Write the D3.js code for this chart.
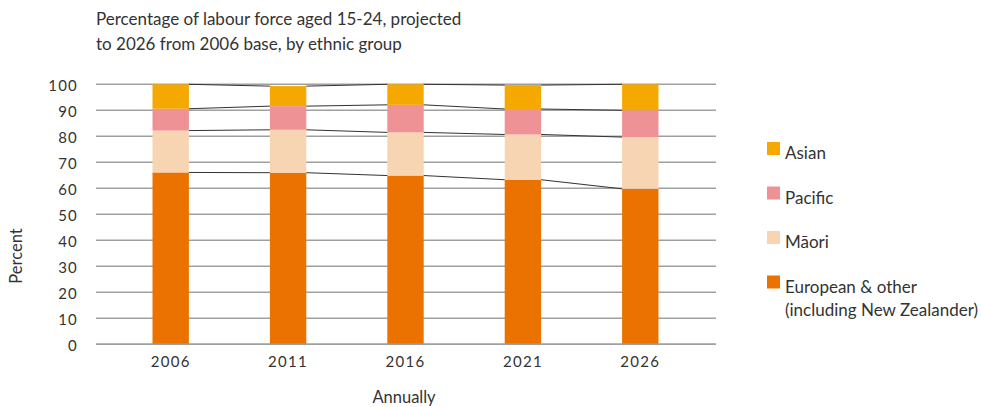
<!DOCTYPE html>
<html>
<head>
<meta charset="utf-8">
<script src="https://cdn.jsdelivr.net/npm/d3@7"></script>
<style>
  body { margin: 0; background: #fff; }
  svg text { font-family: Lato, "Open Sans", sans-serif; fill: #333; }
</style>
</head>
<body>
<svg id="chart" width="981" height="407"></svg>
<script>
const years = ["2006", "2011", "2016", "2021", "2026"];
const seriesNames = ["European & other", "Māori", "Pacific", "Asian"];
const european = [66.1, 66.0, 64.9, 63.3, 59.8];
const maori = [16.1, 16.5, 16.6, 17.4, 19.9];
const pacific = [8.4, 9.1, 10.6, 9.8, 10.3];
const asian = [9.4, 7.7, 7.9, 9.2, 10.0];
const yTicks = [0, 10, 20, 30, 40, 50, 60, 70, 80, 90, 100];
const colors = ["#EC7200", "#F8D5B2", "#EE9296", "#F5A800"];
const legendItems = [
  { name: "Asian", color: colors[3], lines: ["Asian"] },
  { name: "Pacific", color: colors[2], lines: ["Pacific"] },
  { name: "Māori", color: colors[1], lines: ["Māori"] },
  { name: "European & other", color: colors[0], lines: ["European & other", "(including New Zealander)"] }
];

const svg = d3.select("#chart");
const rows = years.map((y, i) => ({ year: y, "European & other": european[i], "Māori": maori[i], "Pacific": pacific[i], "Asian": asian[i] }));
const stack = d3.stack().keys(seriesNames)(rows);

const x = d3.scaleBand().domain(years).range([112, 699]).paddingInner(0.69).paddingOuter(0.345);
const y = d3.scaleLinear().domain([0, 100]).range([344.3, 84.3]);

// gridlines
svg.append("g").selectAll("line").data(yTicks).join("line")
  .attr("x1", 96).attr("x2", 716)
  .attr("y1", d => y(d)).attr("y2", d => y(d))
  .attr("stroke", "#a0a0a0").attr("stroke-width", 1.5);

// y axis labels
const yAxis = d3.axisLeft(y).tickValues(yTicks).tickSize(0).tickPadding(0);
const yg = svg.append("g").attr("transform", "translate(78,0)").call(yAxis);
yg.select(".domain").remove();
yg.selectAll("text").attr("font-size", 15).attr("dy", "0.4em").attr("letter-spacing", 1.2).style("fill", "#333").style("font-family", "Lato, sans-serif");

// x axis labels
const xAxis = d3.axisBottom(x).tickSize(0).tickPadding(0);
const xg = svg.append("g").attr("transform", "translate(0,356)").call(xAxis);
xg.select(".domain").remove();
xg.selectAll("text").attr("font-size", 15).attr("dy", "0.71em").attr("letter-spacing", 1.3).style("fill", "#333").style("font-family", "Lato, sans-serif");

// bars
svg.append("g").selectAll("g").data(stack).join("g")
  .attr("fill", (d, i) => colors[i])
  .selectAll("rect").data(d => d).join("rect")
  .attr("x", d => x(d.data.year))
  .attr("width", x.bandwidth())
  .attr("y", d => y(d[1]))
  .attr("height", d => y(d[0]) - y(d[1]));

// series lines
const sl = svg.append("g").attr("stroke", "#333").attr("stroke-width", 1).attr("fill", "none");
stack.forEach(s => {
  for (let i = 0; i < s.length - 1; i++) {
    sl.append("line")
      .attr("x1", x(years[i]) + x.bandwidth()).attr("y1", y(s[i][1]))
      .attr("x2", x(years[i + 1])).attr("y2", y(s[i + 1][1]));
  }
});

// axis line at bottom
svg.append("line").attr("x1", 96).attr("x2", 716).attr("y1", y(0)).attr("y2", y(0))
  .attr("stroke", "#a0a0a0").attr("stroke-width", 1.5);

// title
svg.append("text").attr("x", 96).attr("y", 25).attr("font-size", 17).text("Percentage of labour force aged 15-24, projected");
svg.append("text").attr("x", 96).attr("y", 50).attr("font-size", 17).text("to 2026 from 2006 base, by ethnic group");

// axis titles
svg.append("text").attr("transform", "translate(22,256) rotate(-90)").attr("text-anchor", "middle").attr("font-size", 16.5).text("Percent");
svg.append("text").attr("x", 404).attr("y", 403).attr("text-anchor", "middle").attr("font-size", 16.5).text("Annually");

// legend
const lg = svg.append("g");
legendItems.forEach((it, i) => {
  const top = 142 + i * 44.5;
  lg.append("rect").attr("x", 767).attr("y", top).attr("width", 13).attr("height", 13).attr("fill", it.color);
  it.lines.forEach((ln, j) => {
    lg.append("text").attr("x", 785).attr("y", top + 17 + j * 23).attr("font-size", 17).text(ln);
  });
});
</script>
</body>
</html>
